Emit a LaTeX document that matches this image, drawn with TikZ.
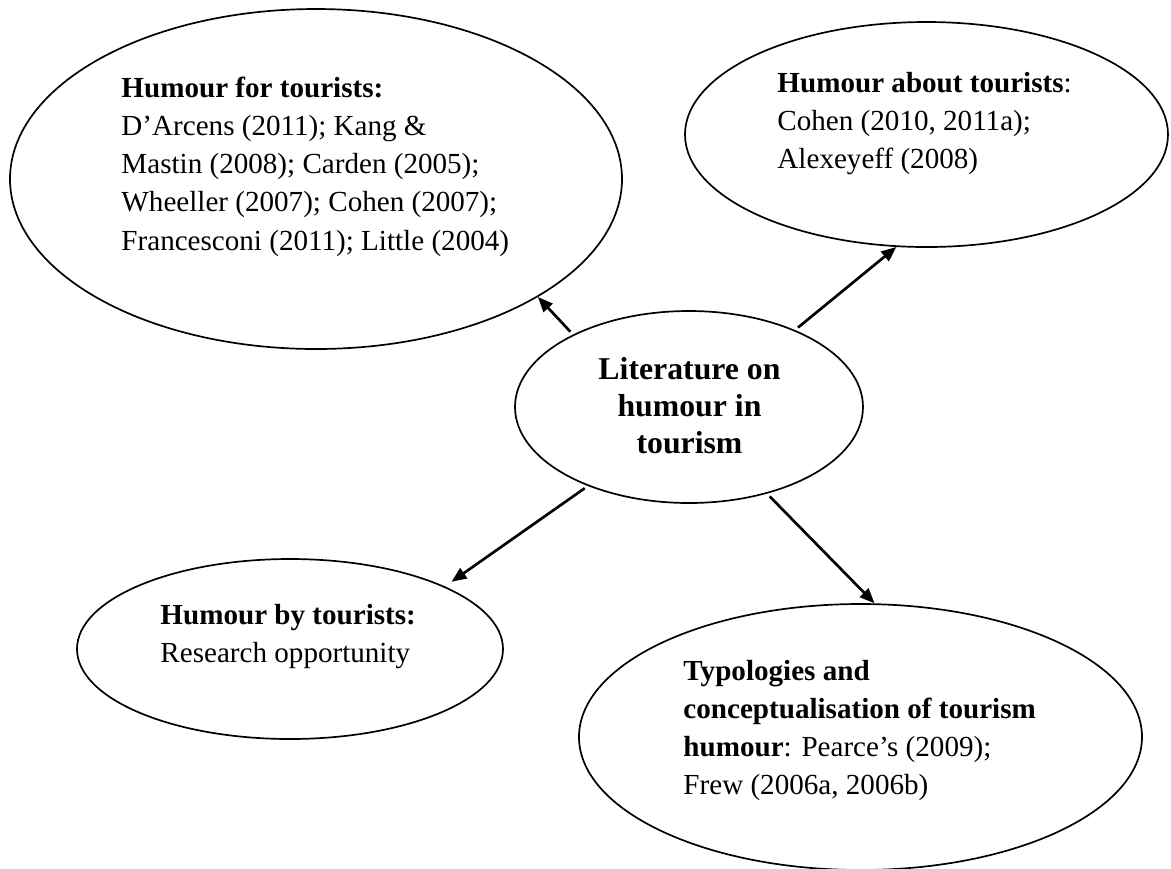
\documentclass[tikz,border=0pt]{standalone}
\usepackage{fontspec}
\setmainfont{Liberation Serif}
\usetikzlibrary{shapes.geometric,arrows.meta}
% left- or centre-aligned block whose baseline is its first line
\newcommand\txtblock[2][l]{\begin{tabular}[t]{@{}#1@{}}#2\end{tabular}}

\begin{document}
\begin{tikzpicture}[x=0.4124pt,y=-0.4124pt,
  bubble/.style={ellipse,draw,line width=0.7pt,inner sep=0pt},
  body/.style={anchor=base west,inner sep=0pt,font=\fontsize{12}{15.8}\selectfont},
  link/.style={line width=1.1pt,-{Triangle[length=6.2pt,width=5pt]},shorten <=1.6pt},
]
\useasboundingbox (0,0) rectangle (1171,868);

% ellipses
\node[bubble,minimum width=612*0.4124pt,minimum height=340*0.4124pt] (e1) at (316,179) {};
\node[bubble,minimum width=483*0.4124pt,minimum height=225*0.4124pt] (e2) at (926.5,134.5) {};
\node[bubble,minimum width=348*0.4124pt,minimum height=192*0.4124pt] (c) at (689,407) {};
\node[bubble,minimum width=426*0.4124pt,minimum height=180*0.4124pt] (e4) at (290,649) {};
\node[bubble,minimum width=563*0.4124pt,minimum height=266*0.4124pt] (e5) at (860.5,737) {};

% texts
\node[anchor=base,inner sep=0pt,font=\fontsize{13.1}{15.26}\selectfont\bfseries] (ct) at (689.5,379)
  {\txtblock[c]{Literature on\\humour in\\tourism}};
\node[body] (t1) at (121,97) {\txtblock{\textbf{Humour for tourists:}\\
  D’Arcens (2011); Kang \&\\
  Mastin (2008); Carden (2005);\\
  Wheeller (2007); Cohen (2007);\\
  Francesconi (2011); Little (2004)}};
\node[body] (t2) at (777,92) {\txtblock{\textbf{Humour about tourists}:\\
  Cohen (2010, 2011a);\\
  Alexeyeff (2008)}};
\node[body] (t4) at (160,624) {\txtblock{\textbf{Humour by tourists:}\\
  Research opportunity}};
\node[body] (t5) at (683,680) {\txtblock{\textbf{Typologies and}\\
  \textbf{conceptualisation of tourism}\\
  \textbf{humour}: Pearce’s (2009);\\
  Frew (2006a, 2006b)}};

% connectors
\draw[link] (c.148.1) -- (e1.-28.4);
\draw[link] (c.36.9) -- (e2.-105.3);
\draw[link,shorten >=3.3pt] (c.218.3) -- (e4.22.4);
\draw[link] (c.-48.4) -- (e5.84.7);
\end{tikzpicture}
\end{document}
